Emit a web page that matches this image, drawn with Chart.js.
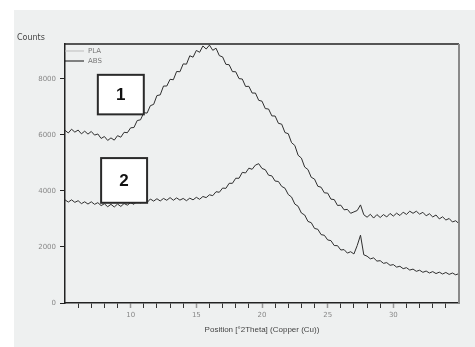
<!DOCTYPE html>
<html>
<head>
<meta charset="utf-8">
<script src="https://cdn.jsdelivr.net/npm/chart.js@4/dist/chart.umd.min.js"></script>
<style>
  body { margin: 0; background: #fff; }
  #panel { position: absolute; left: 14px; top: 10px; width: 461px; height: 337px; background: #eef0f0; }
  canvas { display: block; }
</style>
</head>
<body>
<div id="panel"><canvas id="xrd" width="461" height="337"></canvas></div>
<script>
// 2Theta positions (degrees)
const positions = [
  5, 5.25, 5.5, 5.75, 6, 6.25, 6.5, 6.75, 7, 7.25, 7.5, 7.75, 8, 8.25, 8.5, 8.75,
  9, 9.25, 9.5, 9.75, 10, 10.25, 10.5, 10.75, 11, 11.25, 11.5, 11.75, 12, 12.25, 12.5, 12.75,
  13, 13.25, 13.5, 13.75, 14, 14.25, 14.5, 14.75, 15, 15.25, 15.5, 15.75, 16, 16.25, 16.5, 16.75,
  17, 17.25, 17.5, 17.75, 18, 18.25, 18.5, 18.75, 19, 19.25, 19.5, 19.75, 20, 20.25, 20.5, 20.75,
  21, 21.25, 21.5, 21.75, 22, 22.25, 22.5, 22.75, 23, 23.25, 23.5, 23.75, 24, 24.25, 24.5, 24.75,
  25, 25.25, 25.5, 25.75, 26, 26.25, 26.5, 26.75, 27, 27.25, 27.5, 27.75, 28, 28.25, 28.5, 28.75,
  29, 29.25, 29.5, 29.75, 30, 30.25, 30.5, 30.75, 31, 31.25, 31.5, 31.75, 32, 32.25, 32.5, 32.75,
  33, 33.25, 33.5, 33.75, 34, 34.25, 34.5, 34.75, 35
];

// sample 1 (upper curve)
const countsPLA = [
  6160, 6065, 6200, 6095, 6170, 6035, 6130, 6025, 6120, 5990, 6030, 5870, 5940, 5800, 5890, 5810,
  5970, 5915, 6090, 6075, 6250, 6260, 6510, 6535, 6790, 6775, 7040, 7085, 7400, 7425, 7740, 7740,
  7980, 7965, 8260, 8250, 8530, 8520, 8820, 8770, 9010, 8945, 9170, 9060, 9200, 9015, 9090, 8825,
  8780, 8515, 8500, 8255, 8250, 8005, 7990, 7725, 7730, 7490, 7490, 7230, 7200, 6935, 6920, 6675,
  6670, 6410, 6380, 6080, 6040, 5720, 5620, 5270, 5170, 4850, 4760, 4485, 4420, 4165, 4130, 3930,
  3920, 3705, 3690, 3480, 3490, 3325, 3340, 3200, 3250, 3300, 3500, 3150, 3060, 3165, 3030, 3155,
  3050, 3155, 3070, 3195, 3100, 3205, 3120, 3240, 3160, 3275, 3200, 3275, 3170, 3235, 3110, 3185,
  3070, 3140, 3000, 3075, 2960, 3015, 2890, 2935, 2830
];

// sample 2 (lower curve)
const countsABS = [
  3680, 3600, 3680, 3590, 3650, 3545, 3610, 3530, 3610, 3520, 3580, 3475, 3540, 3435, 3520, 3425,
  3530, 3445, 3550, 3490, 3580, 3520, 3640, 3570, 3660, 3585, 3710, 3635, 3720, 3640, 3730, 3665,
  3760, 3665, 3750, 3670, 3730, 3650, 3740, 3680, 3770, 3700, 3800, 3760, 3860, 3830, 3970, 3950,
  4100, 4090, 4270, 4270, 4450, 4450, 4660, 4640, 4810, 4770, 4920, 4970, 4800, 4755, 4560, 4535,
  4350, 4335, 4160, 4095, 3870, 3780, 3530, 3450, 3210, 3140, 2910, 2865, 2660, 2630, 2440, 2415,
  2250, 2225, 2050, 2045, 1890, 1905, 1780, 1830, 1750, 2050, 2420, 1720, 1670, 1575, 1610, 1495,
  1510, 1415, 1440, 1345, 1370, 1280, 1310, 1225, 1260, 1175, 1210, 1130, 1170, 1095, 1140, 1070,
  1120, 1050, 1100, 1035, 1090, 1020, 1070, 1005, 1050
];

const seriesNames = ['PLA', 'ABS'];
const boxLabels = ['1', '2'];
const countTicks = [0, 2000, 4000, 6000, 8000];

const tickFont = { family: 'DejaVu Sans', size: 7 };

function toPoints(ys) {
  return ys.map((y, i) => ({ x: positions[i], y }));
}

// frame, legend, "Counts" and the numbered boxes
const decorations = {
  id: 'decorations',
  afterDatasetsDraw(chart) {
    const { ctx, chartArea: a, scales: { x, y } } = chart;
    ctx.save();

    // top and right frame
    ctx.strokeStyle = '#222';
    ctx.lineWidth = 1.5;
    ctx.beginPath();
    ctx.moveTo(a.left, a.top);
    ctx.lineTo(a.right, a.top);
    ctx.stroke();
    ctx.strokeStyle = '#8a8a8a';
    ctx.lineWidth = 2;
    ctx.beginPath();
    ctx.moveTo(a.right, a.top);
    ctx.lineTo(a.right, a.bottom);
    ctx.stroke();

    // legend
    const legendColors = ['#bdbdbd', '#111'];
    ctx.font = '7px "DejaVu Sans"';
    ctx.textBaseline = 'middle';
    seriesNames.forEach((name, i) => {
      const ly = a.top + 7 + i * 10;
      ctx.strokeStyle = legendColors[i];
      ctx.lineWidth = 1;
      ctx.beginPath();
      ctx.moveTo(a.left, ly);
      ctx.lineTo(a.left + 19, ly);
      ctx.stroke();
      ctx.fillStyle = '#777';
      ctx.fillText(name, a.left + 23, ly);
    });

    // y axis caption
    ctx.fillStyle = '#444';
    ctx.font = '8px "DejaVu Sans"';
    ctx.textBaseline = 'alphabetic';
    ctx.fillText('Counts', 3, a.top - 4);

    // numbered boxes (data coordinates)
    const boxes = [
      { x0: 7.5, x1: 11.0, y0: 8140, y1: 6730 },
      { x0: 7.75, x1: 11.25, y0: 5170, y1: 3575 }
    ];
    boxes.forEach((b, i) => {
      const l = x.getPixelForValue(b.x0), r = x.getPixelForValue(b.x1);
      const t = y.getPixelForValue(b.y0), btm = y.getPixelForValue(b.y1);
      ctx.fillStyle = '#fff';
      ctx.fillRect(l, t, r - l, btm - t);
      ctx.strokeStyle = '#2a2a2a';
      ctx.lineWidth = 2;
      ctx.strokeRect(l, t, r - l, btm - t);
      ctx.fillStyle = '#111';
      ctx.font = 'bold 17px "Liberation Sans"';
      ctx.textAlign = 'center';
      ctx.textBaseline = 'middle';
      ctx.fillText(boxLabels[i], (l + r) / 2, (t + btm) / 2 + 1);
    });
    ctx.restore();
  }
};

new Chart(document.getElementById('xrd'), {
  type: 'line',
  data: {
    datasets: [
      { label: seriesNames[0], data: toPoints(countsPLA), borderColor: '#2e2e2e', borderWidth: 1, pointRadius: 0, tension: 0 },
      { label: seriesNames[1], data: toPoints(countsABS), borderColor: '#2e2e2e', borderWidth: 1, pointRadius: 0, tension: 0 }
    ]
  },
  options: {
    responsive: false,
    animation: false,
    devicePixelRatio: 1,
    layout: { padding: { top: 34, right: 16, left: 0, bottom: 0 } },
    plugins: { legend: { display: false }, tooltip: { enabled: false } },
    scales: {
      x: {
        type: 'linear',
        min: 5,
        max: 35,
        afterFit(s) { s.height = 44; },
        afterBuildTicks(s) { s.ticks = s.ticks.filter(t => t.value > 5 && t.value < 35); },
        border: { color: '#222', width: 1.5 },
        grid: {
          drawOnChartArea: false,
          drawTicks: true,
          tickLength: 5,
          tickColor: c => (c.tick && c.tick.value % 5 === 0 ? '#999' : '#333'),
          tickWidth: c => (c.tick && c.tick.value % 5 === 0 ? 1.5 : 1)
        },
        ticks: {
          stepSize: 1,
          autoSkip: false,
          maxRotation: 0,
          padding: 3,
          font: tickFont,
          color: '#888',
          callback: v => (v % 5 === 0 ? String(v) : '')
        },
        title: {
          display: true,
          text: 'Position [°2Theta] (Copper (Cu))',
          font: { family: 'Liberation Sans', size: 8 },
          color: '#444',
          padding: { top: 0, bottom: 12 }
        }
      },
      y: {
        min: 0,
        max: 9240,
        afterFit(s) { s.width = 51; },
        afterBuildTicks(s) { s.ticks = countTicks.map(v => ({ value: v })); },
        border: { color: '#222', width: 1.5 },
        grid: { drawOnChartArea: false, drawTicks: true, tickLength: 5, tickColor: '#222' },
        ticks: { autoSkip: false, padding: 4, font: tickFont, color: '#888', callback: v => String(v) }
      }
    }
  },
  plugins: [decorations]
});
</script>
</body>
</html>
